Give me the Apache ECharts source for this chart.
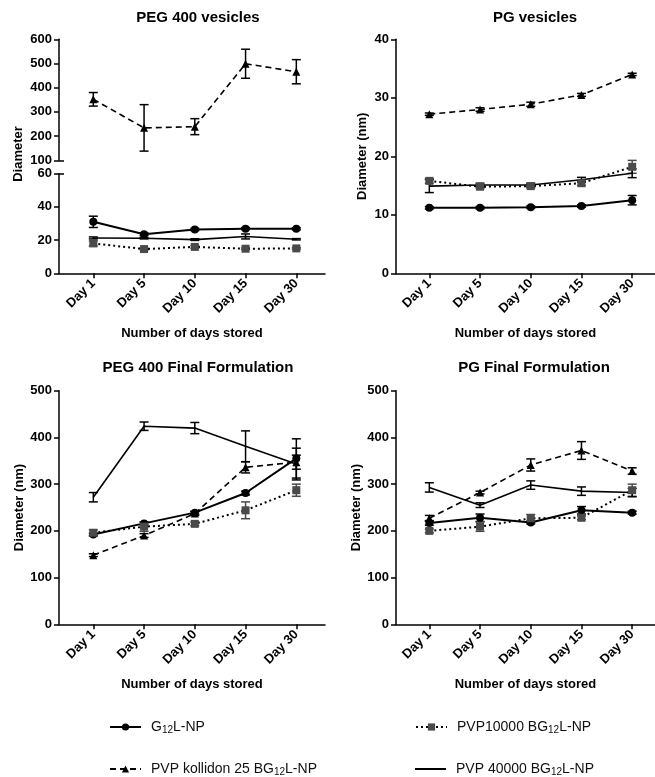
<!DOCTYPE html>
<html><head><meta charset="utf-8">
<script src="https://cdn.jsdelivr.net/npm/echarts@6/dist/echarts.min.js"></script>
<style>html,body{margin:0;padding:0;background:#fff}#c{width:655px;height:777px}</style>
</head><body><div id="c"></div>
<script>
const days = ['Day 1', 'Day 5', 'Day 10', 'Day 15', 'Day 30'];
const names = ['G12L-NP', 'PVP10000 BG12L-NP', 'PVP kollidon 25 BG12L-NP', 'PVP 40000 BG12L-NP'];
const panelTitles = ['PEG 400 vesicles', 'PG vesicles', 'PEG 400 Final Formulation', 'PG Final Formulation'];

// PEG 400 vesicles
const pegVesG12 = [31.0, 23.5, 26.4, 26.9, 26.8];
const pegVesG12Err = [3.4, 0.8, 0.7, 0.6, 0.6];
const pegVesP10 = [18.0, 14.6, 15.9, 14.8, 15.0];
const pegVesP10Err = [1.5, 0.6, 0.8, 0.5, 0.5];
const pegVesK25 = [352, 234, 239, 499, 466];
const pegVesK25Err = [28, 96, 33, 60, 50];
const pegVesP40 = [21.3, 21.1, 20.3, 22.2, 20.5];
const pegVesP40Err = [0.6, 0.4, 0.5, 1.5, 0.4];

// PG vesicles
const pgVesG12 = [11.2, 11.2, 11.3, 11.5, 12.5];
const pgVesG12Err = [0.2, 0.2, 0.2, 0.2, 0.8];
const pgVesP10 = [15.8, 14.8, 14.9, 15.4, 18.2];
const pgVesP10Err = [0.4, 0.3, 0.3, 0.4, 1.1];
const pgVesK25 = [27.2, 28.0, 28.9, 30.5, 34.0];
const pgVesK25Err = [0.2, 0.3, 0.35, 0.25, 0.2];
const pgVesP40 = [14.9, 15.1, 15.1, 16.0, 17.1];
const pgVesP40Err = [1.1, 0.3, 0.3, 0.4, 0.75];

// PEG 400 Final Formulation
const pegFinG12 = [192, 216, 239, 281, 355];
const pegFinG12Err = [3, 3, 3, 4, 42];
const pegFinP10 = [196, 209, 215, 244, 287];
const pegFinP10Err = [6, 10, 4, 18, 13];
const pegFinK25 = [148, 190, 237, 336, 347];
const pegFinK25Err = [3, 4, 4, 12, 15];
const pegFinP40 = [272, 424, 420, 381, 343];
const pegFinP40Err = [10, 9, 12, 33, 34];

// PG Final Formulation
const pgFinG12 = [217, 228, 218, 244, 239];
const pgFinG12Err = [5, 8, 3, 8, 3];
const pgFinP10 = [200, 209, 227, 228, 287];
const pgFinP10Err = [4, 10, 8, 4, 13];
const pgFinK25 = [227, 282, 341, 372, 328];
const pgFinK25Err = [6, 3, 13, 19, 7];
const pgFinP40 = [293, 255, 298, 285, 282];
const pgFinP40Err = [10, 5, 9, 9, 9];

const FONT = 'Liberation Sans, Arial, Helvetica, sans-serif';
const BLACK = '#000';
const GRAY = '#4a4a4a';
const styles = [
  { symbol: 'circle', size: 8, color: BLACK, line: { type: 'solid', width: 2 } },
  { symbol: 'rect', size: 8, color: GRAY, line: { type: [2, 3], width: 2, color: BLACK } },
  { symbol: 'triangle', size: 8, color: BLACK, line: { type: [6, 4], width: 1.6 } },
  { symbol: 'none', size: 0, color: BLACK, line: { type: 'solid', width: 1.6 } }
];

function lineSeries(k, xi, yi, vals) {
  const s = styles[k];
  return {
    type: 'line', name: names[k], xAxisIndex: xi, yAxisIndex: yi,
    data: vals.map((v, i) => [i, v]),
    symbol: s.symbol, symbolSize: s.size, showSymbol: s.symbol !== 'none',
    itemStyle: { color: s.color },
    lineStyle: { color: s.line.color || s.color, type: s.line.type, width: s.line.width },
    emphasis: { disabled: true }, animation: false, z: 3
  };
}
function errSeries(k, xi, yi, vals, errs) {
  const color = styles[k].color;
  return {
    type: 'custom', name: names[k] + ' err', xAxisIndex: xi, yAxisIndex: yi,
    data: vals.map((v, i) => [i, v - errs[i], v + errs[i]]),
    encode: { x: 0, y: [1, 2] },
    renderItem: function (params, api) {
      const x = api.value(0);
      const p1 = api.coord([x, api.value(2)]);
      const p2 = api.coord([x, api.value(1)]);
      const st = { stroke: color, lineWidth: 1.5 };
      const hw = 4.5;
      return {
        type: 'group', children: [
          { type: 'line', shape: { x1: p1[0], y1: p1[1], x2: p2[0], y2: p2[1] }, style: st },
          { type: 'line', shape: { x1: p1[0] - hw, y1: p1[1], x2: p1[0] + hw, y2: p1[1] }, style: st },
          { type: 'line', shape: { x1: p2[0] - hw, y1: p2[1], x2: p2[0] + hw, y2: p2[1] }, style: st }
        ]
      };
    },
    animation: false, z: 2
  };
}

const grids = [
  { left: 59, top: 39.3, width: 266, height: 121 },     // TL upper
  { left: 59, top: 173.7, width: 266, height: 99.6 },   // TL lower
  { left: 396, top: 39.3, width: 259, height: 234 },    // TR
  { left: 59, top: 390.7, width: 266, height: 233.6 },  // BL
  { left: 396, top: 390.7, width: 259, height: 233.6 }  // BR
];

const axisLineStyle = { color: BLACK, width: 1.5 };
function xAx(gi, show, minV, maxV) {
  return {
    type: 'value', gridIndex: gi, show: show, min: minV, max: maxV,
    axisLine: { show: true, onZero: false, lineStyle: axisLineStyle },
    axisTick: { show: true, customValues: [0, 1, 2, 3, 4], length: 5, lineStyle: axisLineStyle },
    axisLabel: {
      customValues: [0, 1, 2, 3, 4], formatter: v => days[v] || '', rotate: 45, margin: 8,
      fontSize: 13, fontWeight: 'bold', color: BLACK, fontFamily: FONT
    },
    splitLine: { show: false },
    name: show ? 'Number of days stored' : '', nameLocation: 'middle', nameGap: 54,
    nameTextStyle: { fontSize: 13, fontWeight: 'bold', color: BLACK, fontFamily: FONT }
  };
}
function yAx(gi, minV, maxV, step, name, gap) {
  return {
    type: 'value', gridIndex: gi, min: minV, max: maxV, interval: step,
    axisLine: { show: true, onZero: false, lineStyle: axisLineStyle },
    axisTick: { show: true, length: 5, lineStyle: axisLineStyle },
    axisLabel: { fontSize: 13, fontWeight: 'bold', color: BLACK, fontFamily: FONT, margin: 7 },
    splitLine: { show: false },
    name: name || '', nameLocation: 'middle', nameGap: gap || 30,
    nameTextStyle: { fontSize: 13, fontWeight: 'bold', color: BLACK, fontFamily: FONT }
  };
}
// inner half of the axis-break ticks
function breakAx(gi, minV, maxV, val) {
  return {
    type: 'value', gridIndex: gi, min: minV, max: maxV, position: 'left',
    axisLine: { show: false, onZero: false },
    axisTick: { show: true, inside: true, length: 5, customValues: [val], lineStyle: axisLineStyle },
    axisLabel: { show: false },
    splitLine: { show: false }
  };
}

const xAxis = [
  xAx(0, false, -0.676, 4.565),
  xAx(1, true, -0.676, 4.565),
  xAx(2, true, -0.657, 4.45),
  xAx(3, true, -0.676, 4.565),
  xAx(4, true, -0.657, 4.45)
];
const yAxis = [
  yAx(0, 100, 600, 100),
  yAx(1, 0, 60, 20),
  yAx(2, 0, 40, 10, 'Diameter (nm)', 27),
  yAx(3, 0, 500, 100, 'Diameter (nm)', 28),
  yAx(4, 0, 500, 100, 'Diameter (nm)', 29),
  breakAx(0, 100, 600, 100),
  breakAx(1, 0, 60, 60)
];

const panelData = [
  { idx: [[1, 1], [1, 1], [0, 0], [1, 1]], vals: [pegVesG12, pegVesP10, pegVesK25, pegVesP40], errs: [pegVesG12Err, pegVesP10Err, pegVesK25Err, pegVesP40Err] },
  { idx: [[2, 2], [2, 2], [2, 2], [2, 2]], vals: [pgVesG12, pgVesP10, pgVesK25, pgVesP40], errs: [pgVesG12Err, pgVesP10Err, pgVesK25Err, pgVesP40Err] },
  { idx: [[3, 3], [3, 3], [3, 3], [3, 3]], vals: [pegFinG12, pegFinP10, pegFinK25, pegFinP40], errs: [pegFinG12Err, pegFinP10Err, pegFinK25Err, pegFinP40Err] },
  { idx: [[4, 4], [4, 4], [4, 4], [4, 4]], vals: [pgFinG12, pgFinP10, pgFinK25, pgFinP40], errs: [pgFinG12Err, pgFinP10Err, pgFinK25Err, pgFinP40Err] }
];

const series = [];
panelData.forEach(p => {
  for (let k = 0; k < 4; k++) {
    series.push(lineSeries(k, p.idx[k][0], p.idx[k][1], p.vals[k]));
  }
});
panelData.forEach(p => {
  for (let k = 0; k < 4; k++) {
    series.push(errSeries(k, p.idx[k][0], p.idx[k][1], p.vals[k], p.errs[k]));
  }
});

const titlePos = [[193, 5], [530, 5], [193, 355], [529, 355]];
const title = panelTitles.map((t, i) => ({
  text: t, left: titlePos[i][0], top: titlePos[i][1], textAlign: 'center',
  textStyle: { fontSize: 15, fontWeight: 'bold', color: BLACK, fontFamily: FONT }
}));

const legendRich = {
  a: { fontSize: 14, color: '#111', fontFamily: FONT, padding: [0, 0, 0, 5], lineHeight: 16 },
  n: { fontSize: 14, color: '#111', fontFamily: FONT, lineHeight: 16 },
  s: { fontSize: 10, color: '#111', fontFamily: FONT, lineHeight: 16, verticalAlign: 'bottom', padding: [8, 0, 0, 0] }
};
function legendFmt(name) {
  const parts = name.split('12');
  return '{a|' + parts[0] + '}{s|12}{n|' + parts[1] + '}';
}
const legendPos = [[104, 712], [410, 712], [104, 754], [410, 754]];
const legend = names.map((n, i) => ({
  data: i === 3 ? [{ name: n, icon: 'rect', itemStyle: { color: BLACK } }] : [n],
  left: legendPos[i][0], top: legendPos[i][1], orient: 'horizontal',
  itemWidth: 31, itemHeight: i === 3 ? 2 : 9, selectedMode: false,
  formatter: legendFmt,
  textStyle: { rich: legendRich, fontFamily: FONT }
}));

const option = {
  backgroundColor: '#fff',
  animation: false,
  title: title,
  legend: legend,
  grid: grids,
  xAxis: xAxis,
  yAxis: yAxis,
  series: series,
  graphic: [{
    type: 'text', x: 18, y: 154, rotation: Math.PI / 2,
    style: { text: 'Diameter', fontSize: 13, fontWeight: 'bold', fontFamily: FONT, fill: BLACK, align: 'center', verticalAlign: 'middle' }
  }]
};

const chart = echarts.init(document.getElementById('c'), null, { renderer: 'canvas' });
chart.setOption(option);
</script>
</body></html>
